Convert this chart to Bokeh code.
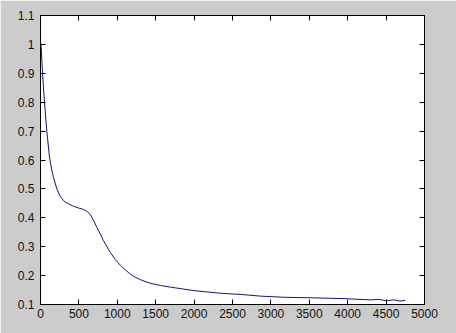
from bokeh.plotting import figure
from bokeh.models import LinearAxis, FixedTicker, Range1d
from bokeh.embed import file_html
from bokeh.resources import INLINE

# data
iteration = [0, 9, 26, 52, 82, 117, 147, 169, 213, 250, 278, 320, 365, 430, 495,
             560, 603, 640, 668, 700, 734, 780, 820, 865, 907, 972, 1042, 1100,
             1160, 1215, 1300, 1389, 1470, 1562, 1693, 1850, 1997, 2150, 2300,
             2450, 2604, 2865, 3168, 3559, 3993, 4297, 4400, 4500, 4600, 4680, 4750]
error = [1.01, 0.99, 0.90, 0.80, 0.70, 0.61, 0.565, 0.54, 0.50, 0.478, 0.466,
         0.455, 0.448, 0.440, 0.434, 0.429, 0.423, 0.414, 0.402, 0.386, 0.367,
         0.343, 0.321, 0.300, 0.281, 0.256, 0.235, 0.221, 0.207, 0.197, 0.186,
         0.177, 0.171, 0.166, 0.160, 0.154, 0.148, 0.144, 0.140, 0.137, 0.135,
         0.129, 0.125, 0.123, 0.120, 0.116, 0.118, 0.113, 0.116, 0.112, 0.114]
x_ticks = [0, 500, 1000, 1500, 2000, 2500, 3000, 3500, 4000, 4500, 5000]
y_ticks = [0.1, 0.2, 0.3, 0.4, 0.5, 0.6, 0.7, 0.8, 0.9, 1.0, 1.1]
y_labels = {0.1: "0.1", 0.2: "0.2", 0.3: "0.3", 0.4: "0.4", 0.5: "0.5", 0.6: "0.6",
            0.7: "0.7", 0.8: "0.8", 0.9: "0.9", 1.0: "1", 1.1: "1.1"}

BG = "#cccccc"
FONT = "Liberation Sans"

p = figure(width=456, height=333, output_backend="svg", toolbar_location=None,
           x_range=Range1d(0, 5000), y_range=Range1d(0.1, 1.1),
           min_border_left=40, min_border_right=32, min_border_top=15,
           min_border_bottom=29, x_axis_location=None, y_axis_location=None)
p.background_fill_color = "white"
p.border_fill_color = BG
p.outline_line_color = "black"
p.outline_line_width = 1
p.grid.visible = False

p.line(iteration, error, line_color="#14147a", line_width=1)


def make_axis(ticks, labels=True):
    ax = LinearAxis(ticker=FixedTicker(ticks=ticks))
    ax.major_tick_in = 5
    ax.major_tick_out = 0
    ax.minor_tick_line_color = None
    ax.axis_line_color = "black"
    ax.major_tick_line_color = "black"
    ax.major_label_text_font = FONT
    ax.major_label_text_font_size = "12px"
    ax.major_label_text_color = "#111111"
    if not labels:
        ax.major_label_text_font_size = "1px"
        ax.major_label_text_color = None
        ax.major_label_standoff = 0
    return ax


xb = make_axis(x_ticks)
xb.major_label_standoff = 4
p.add_layout(xb, "below")
p.add_layout(make_axis(x_ticks, labels=False), "above")

yl = make_axis(y_ticks)
yl.major_label_standoff = 6
yl.major_label_overrides = y_labels
p.add_layout(yl, "left")
p.add_layout(make_axis(y_ticks, labels=False), "right")

html = file_html(p, INLINE)
html = html.replace("<body>", '<body style="background:%s">' % BG, 1)
open("out.html", "w").write(html)
